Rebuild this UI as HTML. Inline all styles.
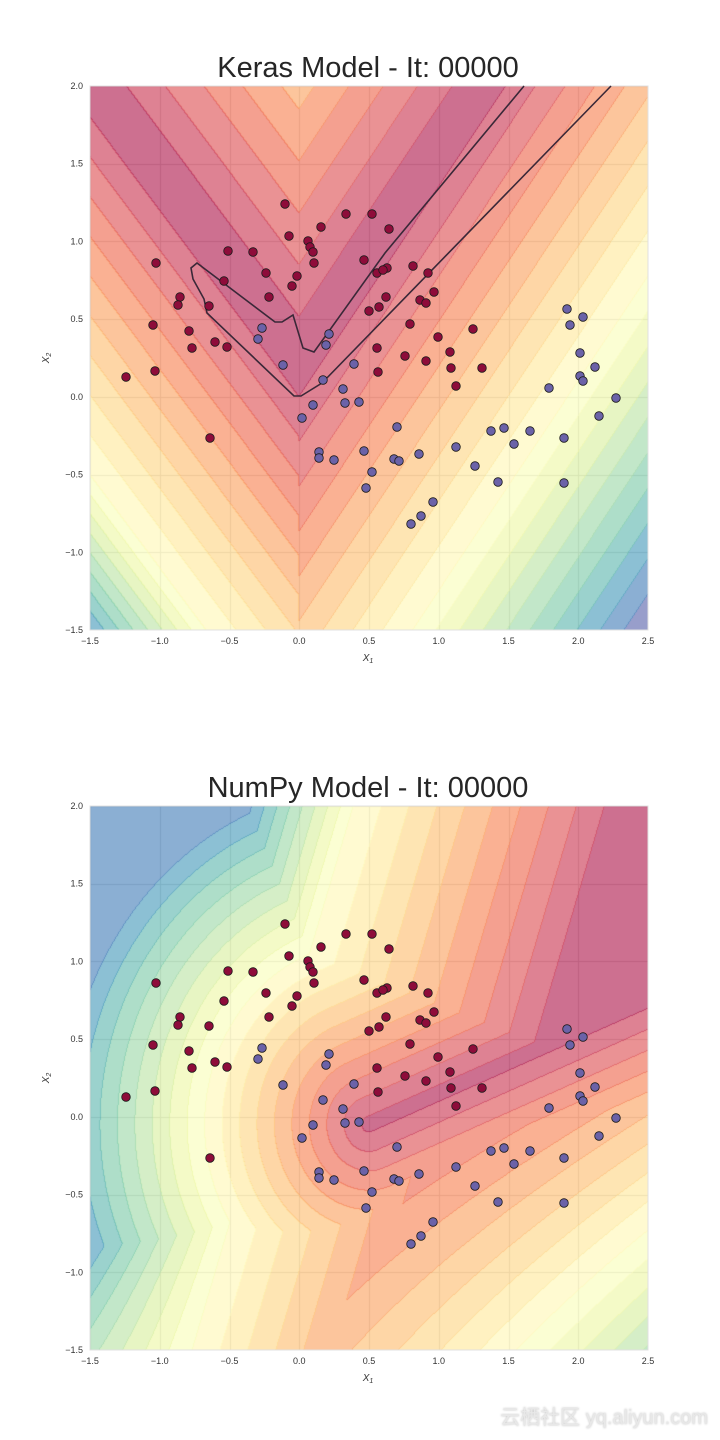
<!DOCTYPE html>
<html><head><meta charset="utf-8">
<style>
html,body{margin:0;padding:0;background:#fff;}
body{width:720px;height:1440px;position:relative;overflow:hidden;font-family:"Liberation Sans",sans-serif;}
canvas{position:absolute;}
svg{position:absolute;left:0;top:0;}
.t{position:absolute;width:720px;text-align:center;font-size:29px;color:#262626;left:8px;}
.wm{position:absolute;right:12px;bottom:10px;font-size:20px;color:#e8e8e8;font-family:"Liberation Sans","Noto Sans CJK SC",sans-serif;text-shadow:0 0 2px #bbb;}
</style></head><body>
<div class="t" style="top:52px">Keras Model - It: 00000</div>
<div class="t" style="top:772px">NumPy Model - It: 00000</div>
<canvas id="c1" width="558" height="544" style="left:90px;top:86px"></canvas>
<canvas id="c2" width="558" height="544" style="left:90px;top:806px"></canvas>
<svg id="s" width="720" height="1440"></svg>
<div class="wm">云栖社区 yq.aliyun.com</div>
<script>
var stops=["#9e0142","#d53e4f","#f46d43","#fdae61","#fee08b","#ffffbf","#e6f598","#abdda4","#66c2a5","#3288bd","#5e4fa2"].map(function(h){return [parseInt(h.substr(1,2),16),parseInt(h.substr(3,2),16),parseInt(h.substr(5,2),16)];});
function spec(c){c=Math.max(0,Math.min(1,c));var p=c*10,i=Math.min(9,Math.floor(p)),f=p-i;var a=stops[i],b=stops[i+1];return [a[0]+(b[0]-a[0])*f,a[1]+(b[1]-a[1])*f,a[2]+(b[2]-a[2])*f];}
function f1(x,y){var s=x<0?1.2:1.35;var d=y-s*Math.abs(x);
 if(d>=0)return 0.04+Math.max(0,d-0.45)*0.15;
 var r=x<0?2.3:2.6;
 if(d>-r)return 0.05+(-d)*0.45/r;
 return 0.5+(-d-r)*(x<0?0.4:0.22);}
function f2(x,y){var xr=0.39-(2-y)*0.33;var s=x-xr;
 var sl=y>0?0.55:0.55-(-y/1.5)*0.25;
 var cr=s<0?Math.min(0.9,0.5-s*sl):0.5-s*0.25;
 if(s<-1.6&&y>1.5)cr=0.93;
 var yl=-0.05+0.4*(x-0.5);var b=yl-y;var cb=b>0?0.1+b*(0.12+0.06*x):0;
 var px=0.5,py=-0.05,dx=2,dy=0.8,L=dx*dx+dy*dy;var t=((x-px)*dx+(y-py)*dy)/L;t=Math.max(0,Math.min(1,t));
 var ex=x-(px+t*dx),ey=y-(py+t*dy);var dist=Math.sqrt(ex*ex+ey*ey);
 var cbl=0.03+dist*0.4;
 return Math.max(0.03,Math.min(Math.max(cr,cb),cbl));}
function draw(id,f){var cv=document.getElementById(id),ctx=cv.getContext('2d');var W=558,H=544;
 var img=ctx.createImageData(W,H),D=img.data;var lv=new Int16Array(W*H);
 for(var j=0;j<H;j++)for(var i=0;i<W;i++){var x=-1.5+(i+0.5)/W*4,y=2-(j+0.5)/H*3.5;lv[j*W+i]=Math.floor(f(x,y)/0.05);}
 var gx=[],gy=[];for(var k=0;k<=8;k++)gx.push(Math.round(k*W/8));for(k=0;k<=7;k++)gy.push(Math.round(k*H/7));
 for(j=0;j<H;j++)for(i=0;i<W;i++){var l=lv[j*W+i];var col=spec((l+0.5)*0.05);
  var edge=(i<W-1&&lv[j*W+i+1]!=l)||(j<H-1&&lv[(j+1)*W+i]!=l);
  var a=edge?0.8:0.6;var bg=255;if(gx.indexOf(i)>=0||gy.indexOf(j)>=0)bg=215;
  var o=(j*W+i)*4;D[o]=col[0]*a+bg*(1-a);D[o+1]=col[1]*a+bg*(1-a);D[o+2]=col[2]*a+bg*(1-a);D[o+3]=255;}
 ctx.putImageData(img,0,0);}
draw('c1',f1);draw('c2',f2);
var red=[[285,204],[346,214],[372,214],[321,227],[389,229],[289,236],[308,241],[310,247],[314,263],[313,252],[228,251],[253,252],[266,273],[156,263],[387,268],[364,260],[377,273],[383,270],[428,273],[413,266],[224,281],[292,286],[297,276],[180,297],[178,305],[209,306],[386,297],[379,307],[434,292],[420,300],[426,303],[369,311],[189,331],[153,325],[215,342],[269,297],[192,348],[227,347],[410,324],[473,329],[438,337],[377,348],[405,356],[450,352],[426,361],[155,371],[126,377],[378,372],[451,368],[482,368],[456,386],[210,438]];
var blue=[[567,309],[583,317],[570,325],[262,328],[329,334],[258,339],[326,345],[283,365],[354,364],[580,353],[595,367],[580,376],[583,381],[323,380],[549,388],[343,389],[616,398],[359,402],[302,418],[313,405],[345,403],[599,416],[397,427],[491,431],[504,428],[530,431],[514,444],[456,447],[319,452],[364,451],[319,458],[334,460],[394,459],[399,461],[419,454],[564,438],[475,466],[372,472],[564,483],[498,482],[366,488],[433,502],[421,516],[411,524]];
var svg='';
function plot(oy){
 svg+='<rect x="90" y="'+(86+oy)+'" width="558" height="544" fill="none" stroke="#e0e0e0" stroke-width="1"/>';
 for(var k=0;k<=8;k++){var v=-1.5+k*0.5;var px=90+k*558/8;svg+='<text x="'+px+'" y="'+(644+oy)+'" font-size="9" fill="#333" text-anchor="middle">'+v.toFixed(1).replace('-','\u2212')+'</text>';}
 for(k=0;k<=7;k++){v=-1.5+k*0.5;var py=630-k*544/7;svg+='<text x="83" y="'+(py+3+oy)+'" font-size="9" fill="#333" text-anchor="end">'+v.toFixed(1).replace('-','\u2212')+'</text>';}
 svg+='<text x="368" y="'+(661+oy)+'" font-size="10" fill="#333" text-anchor="middle" font-style="italic">X<tspan font-size="7" dy="2">1</tspan></text>';
 svg+='<text transform="translate(49,'+(358+oy)+') rotate(-90)" font-size="10" fill="#333" text-anchor="middle" font-style="italic">X<tspan font-size="7" dy="2">2</tspan></text>';
}
plot(0);plot(720);
svg+='<polyline fill="none" stroke="#3a2838" stroke-width="1.6" points="524,86 385,253 314,352 303,348 293,315 282,322 275,322 197,263 191,268 193,279 204,299 207,313 294,396 301,396 322,383 611,86"/>';
function dots(oy){
 red.forEach(function(p){svg+='<circle cx="'+p[0]+'" cy="'+(p[1]+oy)+'" r="4.3" fill="#8e0c3a" stroke="#1a1a1a" stroke-width="0.8"/>';});
 blue.forEach(function(p){svg+='<circle cx="'+p[0]+'" cy="'+(p[1]+oy)+'" r="4.3" fill="#6b62a8" stroke="#1a1a1a" stroke-width="0.8"/>';});
}
dots(0);dots(720);
document.getElementById('s').innerHTML=svg;
</script>
</body></html>
